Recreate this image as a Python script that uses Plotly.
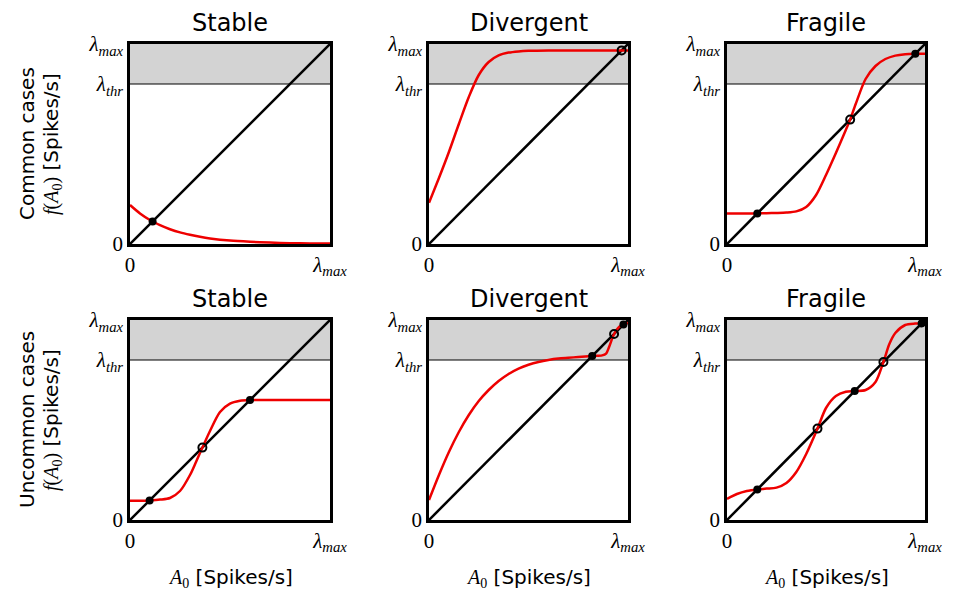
import plotly.graph_objects as go

# ---------------- data (normalised: 1.0 == lambda_max) ----------------
LAM_MAX = 1.0
LAM_THR = 0.8

diag_x = [0.0, 1.0]
diag_y = [0.0, 1.0]

col_titles = ["Stable", "Divergent", "Fragile"]
row_titles = ["Common cases", "Uncommon cases"]

# Row 1 - common cases
stable_c_x = [0, 0.05, 0.1, 0.113, 0.15, 0.2, 0.25, 0.3, 0.35, 0.4, 0.5, 0.6, 0.7, 0.8, 0.9, 1.0]
stable_c_y = [0.195, 0.153, 0.12, 0.113, 0.094, 0.074, 0.058, 0.046, 0.036, 0.028, 0.017, 0.011, 0.007, 0.004, 0.003, 0.002]
stable_c_fp_filled = [0.113]
stable_c_fp_open = []

diverg_c_x = [0, 0.05, 0.1, 0.15, 0.2, 0.25, 0.3, 0.35, 0.4, 0.45, 0.5, 0.6, 0.7, 0.8, 0.9, 1.0]
diverg_c_y = [0.206, 0.33, 0.46, 0.6, 0.735, 0.845, 0.91, 0.943, 0.957, 0.963, 0.966, 0.968, 0.968, 0.968, 0.968, 0.968]
diverg_c_fp_filled = []
diverg_c_fp_open = [0.968]

fragile_c_x = [0, 0.1, 0.153, 0.2, 0.25, 0.3, 0.35, 0.4, 0.45, 0.5, 0.55, 0.6, 0.622, 0.65, 0.7, 0.75, 0.8, 0.85, 0.9, 0.95, 1.0]
fragile_c_y = [0.153, 0.153, 0.153, 0.154, 0.155, 0.157, 0.163, 0.185, 0.245, 0.345, 0.455, 0.57, 0.622, 0.7, 0.825, 0.89, 0.925, 0.942, 0.949, 0.951, 0.951]
fragile_c_fp_filled = [0.153, 0.951]
fragile_c_fp_open = [0.622]

# Row 2 - uncommon cases
stable_u_x = [0, 0.05, 0.098, 0.15, 0.2, 0.25, 0.3, 0.33, 0.362, 0.4, 0.45, 0.5, 0.55, 0.6, 0.7, 0.8, 0.9, 1.0]
stable_u_y = [0.096, 0.096, 0.098, 0.102, 0.11, 0.145, 0.225, 0.29, 0.362, 0.445, 0.54, 0.582, 0.596, 0.6, 0.6, 0.6, 0.6, 0.6]
stable_u_fp_filled = [0.098, 0.6]
stable_u_fp_open = [0.362]

diverg_u_x = [0, 0.05, 0.1, 0.15, 0.2, 0.25, 0.3, 0.35, 0.4, 0.45, 0.5, 0.55, 0.6, 0.65, 0.7, 0.75, 0.82, 0.87, 0.89, 0.905, 0.93, 0.955, 0.977, 1.0]
diverg_u_y = [0.1, 0.225, 0.34, 0.44, 0.525, 0.595, 0.65, 0.695, 0.73, 0.757, 0.776, 0.79, 0.8, 0.807, 0.811, 0.815, 0.82, 0.823, 0.832, 0.865, 0.93, 0.965, 0.977, 0.985]
diverg_u_fp_filled = [0.82, 0.977]
diverg_u_fp_open = [0.93]

fragile_u_x = [0, 0.05, 0.1, 0.153, 0.2, 0.25, 0.3, 0.35, 0.4, 0.457, 0.5, 0.55, 0.6, 0.645, 0.7, 0.75, 0.79, 0.82, 0.85, 0.9, 0.95, 0.983, 1.0]
fragile_u_y = [0.106, 0.13, 0.145, 0.153, 0.157, 0.162, 0.185, 0.24, 0.33, 0.457, 0.56, 0.62, 0.641, 0.645, 0.65, 0.69, 0.79, 0.88, 0.935, 0.975, 0.982, 0.983, 0.983]
fragile_u_fp_filled = [0.153, 0.645, 0.983]
fragile_u_fp_open = [0.457, 0.79]

panels = [
    (stable_c_x, stable_c_y, stable_c_fp_filled, stable_c_fp_open),
    (diverg_c_x, diverg_c_y, diverg_c_fp_filled, diverg_c_fp_open),
    (fragile_c_x, fragile_c_y, fragile_c_fp_filled, fragile_c_fp_open),
    (stable_u_x, stable_u_y, stable_u_fp_filled, stable_u_fp_open),
    (diverg_u_x, diverg_u_y, diverg_u_fp_filled, diverg_u_fp_open),
    (fragile_u_x, fragile_u_y, fragile_u_fp_filled, fragile_u_fp_open),
]

# ---------------- layout geometry (pixels) ----------------
W, H = 953, 590
col_px = [(130, 330), (429, 628), (727, 925)]
row_px = [(44, 244), (320, 520)]

SERIF = "Liberation Serif"
SANS = "DejaVu Sans"
lam_max = "<i>λ</i><sub><i>max</i></sub>"
lam_thr = "<i>λ</i><sub><i>thr</i></sub>"

fig = go.Figure()
layout = dict(
    width=W, height=H,
    margin=dict(l=0, r=0, t=0, b=0),
    paper_bgcolor="white", plot_bgcolor="white",
    showlegend=False,
    shapes=[], annotations=[],
)

for i, (rx, ry, fp_f, fp_o) in enumerate(panels):
    n = i + 1
    r, c = divmod(i, 3)
    xs = "x" if n == 1 else f"x{n}"
    ys = "y" if n == 1 else f"y{n}"
    xk = "xaxis" if n == 1 else f"xaxis{n}"
    yk = "yaxis" if n == 1 else f"yaxis{n}"
    x0, x1 = col_px[c]
    y0, y1 = row_px[r]
    layout[xk] = dict(
        domain=[x0 / W, x1 / W], range=[0, LAM_MAX], anchor=ys,
        tickvals=[0, LAM_MAX], ticktext=["0", lam_max],
        showgrid=False, zeroline=False, showline=True, mirror=True,
        linecolor="black", linewidth=2.5, ticks="",
        tickfont=dict(family=SERIF, size=21, color="black"),
        automargin=False, fixedrange=True,
    )
    layout[yk] = dict(
        domain=[1 - y1 / H, 1 - y0 / H], range=[0, LAM_MAX], anchor=xs,
        tickvals=[0, LAM_THR, LAM_MAX], ticktext=["0", lam_thr, lam_max],
        showgrid=False, zeroline=False, showline=True, mirror=True,
        linecolor="black", linewidth=2.5, ticks="",
        tickfont=dict(family=SERIF, size=21, color="black"),
        automargin=False, fixedrange=True,
    )
    # shaded region above threshold
    layout["shapes"].append(dict(
        type="rect", xref=xs, yref=ys, x0=0, x1=LAM_MAX, y0=LAM_THR, y1=LAM_MAX,
        fillcolor="#d3d3d3", line=dict(width=0), layer="below"))
    layout["shapes"].append(dict(
        type="line", xref=xs, yref=ys, x0=0, x1=LAM_MAX, y0=LAM_THR, y1=LAM_THR,
        line=dict(color="black", width=1.2), layer="below"))

    fig.add_trace(go.Scatter(x=diag_x, y=diag_y, mode="lines",
                             line=dict(color="black", width=2.5),
                             xaxis=xs, yaxis=ys, hoverinfo="skip"))
    fig.add_trace(go.Scatter(x=rx, y=ry, mode="lines",
                             line=dict(color="#ee0000", width=2.5, shape="spline", smoothing=0.8),
                             xaxis=xs, yaxis=ys, hoverinfo="skip"))
    if fp_f:
        fig.add_trace(go.Scatter(x=fp_f, y=fp_f, mode="markers",
                                 marker=dict(color="black", size=8, symbol="circle"),
                                 xaxis=xs, yaxis=ys, hoverinfo="skip"))
    if fp_o:
        fig.add_trace(go.Scatter(x=fp_o, y=fp_o, mode="markers",
                                 marker=dict(color="black", size=8, symbol="circle-open",
                                             line=dict(color="black", width=2)),
                                 xaxis=xs, yaxis=ys, hoverinfo="skip"))

    # column title
    layout["annotations"].append(dict(
        text=col_titles[c], xref="paper", yref="paper",
        x=(x0 + x1) / 2 / W, y=1 - (y0 - 21) / H,
        xanchor="center", yanchor="middle", showarrow=False,
        font=dict(family=SANS, size=24, color="black")))

# row labels
for r, (y0, y1) in enumerate(row_px):
    yc = 1 - (y0 + y1) / 2 / H
    layout["annotations"].append(dict(
        text=row_titles[r], xref="paper", yref="paper", x=27 / W, y=yc,
        xanchor="center", yanchor="middle", textangle=-90, showarrow=False,
        font=dict(family=SANS, size=20, color="black")))
    layout["annotations"].append(dict(
        text=f"<span style=\"font-family:'{SERIF}'\"><i>f</i>(<i>A</i><sub>0</sub>)</span> [Spikes/s]",
        xref="paper", yref="paper", x=52 / W, y=yc,
        xanchor="center", yanchor="middle", textangle=-90, showarrow=False,
        font=dict(family=SANS, size=20, color="black")))

# x-axis titles under bottom row
for c, (x0, x1) in enumerate(col_px):
    layout["annotations"].append(dict(
        text=f"<span style=\"font-family:'{SERIF}'\"><i>A</i><sub>0</sub></span> [Spikes/s]",
        xref="paper", yref="paper", x=(x0 + x1) / 2 / W, y=1 - 578 / H,
        xanchor="center", yanchor="middle", showarrow=False,
        font=dict(family=SANS, size=20, color="black")))

fig.update_layout(**layout)
fig.write_html(
    "out.html",
    post_script="document.body.style.margin='0';document.body.style.overflow='hidden';",
)
